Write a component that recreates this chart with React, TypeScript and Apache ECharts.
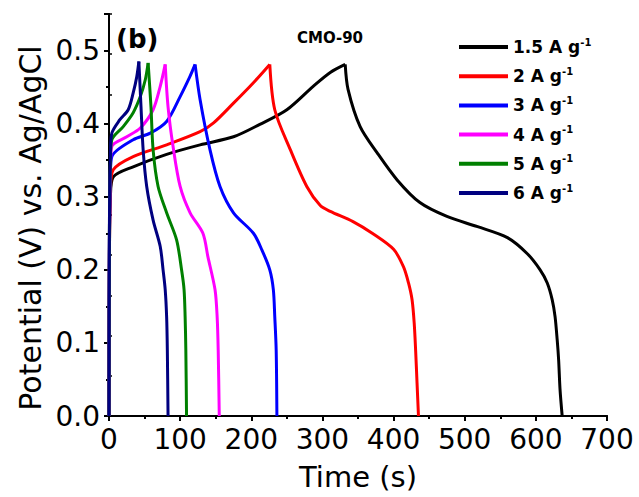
import React, { useEffect, useRef } from "react";
import * as echarts from "echarts";

const seriesNames = ["1.5 A g", "2 A g", "3 A g", "4 A g", "5 A g", "6 A g"];
const seriesColors = ["#000000", "#ff0000", "#0000ff", "#ff00ff", "#008000", "#000080"];

const t15 = [0, 0.5, 2, 6, 34, 81, 128, 175, 212, 250, 287, 311, 332, 336, 353, 377, 405, 437, 475, 518, 560, 588, 606, 616, 623, 627, 630, 632, 634, 637];
const v15 = [0, 0.2, 0.3, 0.327, 0.341, 0.358, 0.371, 0.382, 0.399, 0.419, 0.451, 0.47, 0.481, 0.447, 0.396, 0.36, 0.323, 0.292, 0.273, 0.259, 0.244, 0.222, 0.2, 0.182, 0.159, 0.136, 0.104, 0.077, 0.036, 0];

const t2 = [0, 0.5, 2, 6, 34, 81, 128, 147, 175, 203, 226, 233, 255, 278, 297, 311, 343, 370, 400, 414, 421, 426, 429, 431, 433, 435];
const v2 = [0, 0.2, 0.31, 0.337, 0.355, 0.371, 0.389, 0.401, 0.428, 0.456, 0.481, 0.419, 0.364, 0.314, 0.288, 0.28, 0.266, 0.25, 0.228, 0.204, 0.182, 0.159, 0.127, 0.09, 0.045, 0];

const t3 = [0, 0.5, 2, 4, 34, 58, 81, 100, 114, 121, 128, 142, 156, 175, 203, 215, 226, 231, 233, 235, 236];
const v3 = [0, 0.22, 0.33, 0.355, 0.378, 0.387, 0.403, 0.437, 0.465, 0.481, 0.433, 0.364, 0.314, 0.278, 0.25, 0.227, 0.2, 0.173, 0.136, 0.09, 0];

const t4 = [0, 0.5, 2, 4, 25, 44, 62, 72, 79, 83, 90, 100, 114, 132, 139, 149, 152, 153.5, 155];
const v4 = [0, 0.23, 0.34, 0.369, 0.382, 0.394, 0.419, 0.451, 0.481, 0.423, 0.369, 0.314, 0.278, 0.25, 0.218, 0.173, 0.136, 0.09, 0];

const t5 = [0, 0.5, 2, 4, 20, 34, 44, 51, 55, 59, 62, 69, 81, 95, 102, 105.5, 107, 108, 109];
const v5 = [0, 0.24, 0.35, 0.378, 0.396, 0.415, 0.437, 0.46, 0.483, 0.423, 0.364, 0.314, 0.278, 0.241, 0.2, 0.173, 0.136, 0.09, 0];

const t6 = [0, 0.5, 2, 4, 15, 27, 34, 39, 42, 45, 48, 53, 62, 72, 76, 79, 81, 82, 83];
const v6 = [0, 0.25, 0.36, 0.387, 0.405, 0.419, 0.442, 0.464, 0.485, 0.423, 0.364, 0.314, 0.268, 0.232, 0.2, 0.173, 0.136, 0.09, 0];

const times = [t15, t2, t3, t4, t5, t6];
const volts = [v15, v2, v3, v4, v5, v6];

const xTicks = [0, 700, 100];
const yTicks = [0, 0.55, 0.1];

const FONT = "DejaVu Sans";

export default function App() {
  const ref = useRef<HTMLDivElement>(null);
  useEffect(() => {
    const chart = echarts.init(ref.current!, null, { renderer: "svg" });
    const axisLine = { show: true, lineStyle: { color: "#000", width: 2 } };
    const series: any[] = [];
    seriesNames.forEach((name, i) => {
      const pts = times[i].map((t, j) => [t, volts[i][j]]);
      let pk = 0;
      volts[i].forEach((v, j) => {
        if (v > volts[i][pk]) pk = j;
      });
      const parts = [pts.slice(0, pk + 1), pts.slice(pk)];
      parts.forEach((data) => {
        series.push({
          name,
          type: "line",
          xAxisIndex: 0,
          yAxisIndex: 0,
          showSymbol: false,
          symbol: "none",
          smooth: 0.3,
          data,
          lineStyle: { color: seriesColors[i], width: 3 },
          itemStyle: { color: seriesColors[i] },
        });
      });
    });
    const option: any = {
      animation: false,
      backgroundColor: "#fff",
      grid: { left: 109, right: 32, top: 14, bottom: 81, containLabel: false },
      xAxis: [
        {
          type: "value",
          position: "bottom",
          min: xTicks[0],
          max: xTicks[1],
          interval: xTicks[2],
          axisLine,
          axisTick: { show: true, inside: false, length: 5, lineStyle: { width: 2, color: "#000" } },
          minorTick: { show: true, splitNumber: 2, length: 3, lineStyle: { width: 2, color: "#000" } },
          splitLine: { show: false },
          axisLabel: { color: "#000", fontFamily: FONT, fontSize: 28, margin: 9 },
          name: "Time (s)",
          nameLocation: "middle",
          nameGap: 46,
          nameTextStyle: { color: "#000", fontFamily: FONT, fontSize: 29 },
        },
        {
          type: "value",
          position: "top",
          min: xTicks[0],
          max: xTicks[1],
          axisLine,
          axisTick: { show: false },
          axisLabel: { show: false },
          splitLine: { show: false },
        },
      ],
      yAxis: [
        {
          type: "value",
          position: "left",
          min: yTicks[0],
          max: yTicks[1],
          interval: yTicks[2],
          axisLine,
          axisTick: { show: true, inside: false, length: 5, lineStyle: { width: 2, color: "#000" } },
          minorTick: { show: true, splitNumber: 2, length: 3, lineStyle: { width: 2, color: "#000" } },
          splitLine: { show: false },
          axisLabel: {
            color: "#000",
            fontFamily: FONT,
            fontSize: 28,
            margin: 9,
            formatter: (v: number) => (Math.abs(v - 0.55) < 1e-6 ? "" : v.toFixed(1)),
          },
        },
        {
          type: "value",
          position: "right",
          min: 0,
          max: 10,
          interval: 1,
          axisLine,
          axisTick: { show: true, inside: false, length: 3, lineStyle: { width: 1.5, color: "#000" } },
          axisLabel: { show: false },
          splitLine: { show: false },
        },
      ],
      legend: {
        orient: "vertical",
        left: 454,
        top: 32,
        itemWidth: 49,
        itemHeight: 4,
        itemGap: 10.7,
        icon: "rect",
        data: seriesNames,
        formatter: (n: string) => `{a|${n}}{b|-1}`,
        textStyle: {
          rich: {
            a: { fontFamily: FONT, fontWeight: "bold", fontSize: 17, color: "#000", lineHeight: 20 },
            b: { fontFamily: FONT, fontWeight: "bold", fontSize: 10, color: "#000", verticalAlign: "top", lineHeight: 12 },
          },
        },
      },
      graphic: [
        {
          type: "text",
          x: 30,
          y: 228,
          rotation: Math.PI / 2,
          style: {
            text: "Potential (V) vs. Ag/AgCl",
            fontFamily: FONT,
            fontSize: 30,
            fill: "#000",
            textAlign: "center",
            textVerticalAlign: "middle",
          },
        },
        {
          type: "text",
          x: 116,
          y: 39,
          style: {
            text: "(b)",
            fontFamily: FONT,
            fontWeight: "bold",
            fontSize: 26,
            fill: "#000",
            textAlign: "left",
            textVerticalAlign: "middle",
          },
        },
        {
          type: "text",
          x: 330,
          y: 37.5,
          style: {
            text: "CMO-90",
            fontFamily: FONT,
            fontWeight: "bold",
            fontSize: 15,
            fill: "#000",
            textAlign: "center",
            textVerticalAlign: "middle",
          },
        },
      ],
      series,
    };
    chart.setOption(option);
    return () => chart.dispose();
  }, []);
  return <div ref={ref} style={{ width: 639, height: 497, position: "absolute", left: 0, top: 0 }} />;
}
